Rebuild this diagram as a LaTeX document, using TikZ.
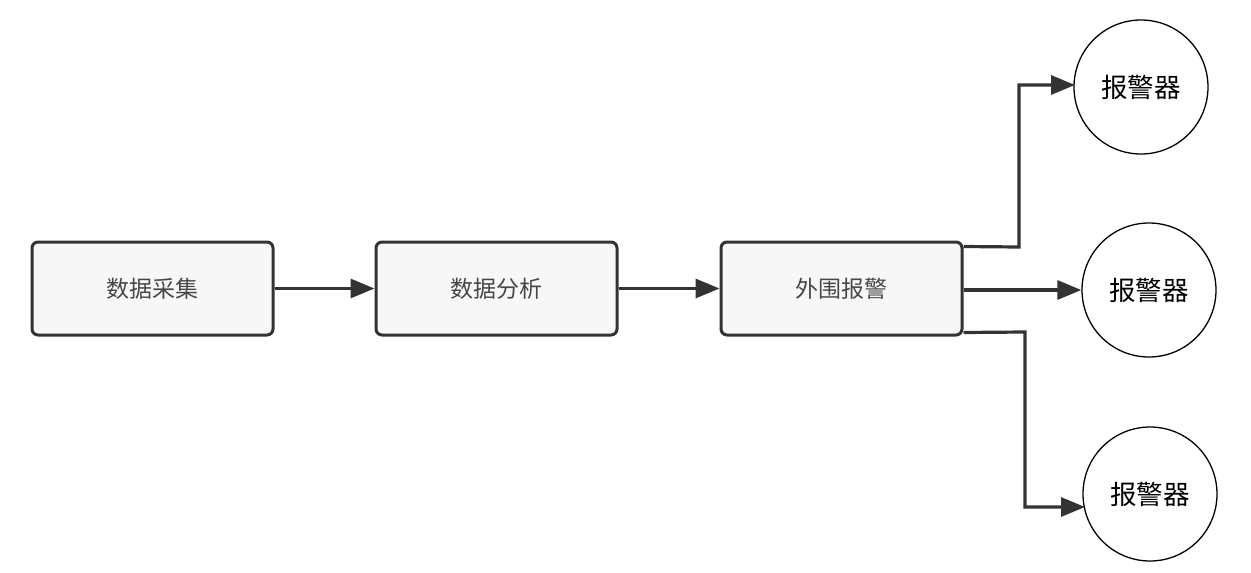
\documentclass[tikz,border=0pt]{standalone}
\usepackage{fontspec}
\newfontfamily\cjk{Noto Sans CJK SC}
\usetikzlibrary{arrows.meta,calc}
\definecolor{lc}{HTML}{333333}
\definecolor{bf}{HTML}{F7F7F7}
\tikzset{
  procbox/.style={draw=lc, line width=3pt, fill=bf, rounded corners=6pt,
    minimum width=241pt, minimum height=93pt, inner sep=0pt,
    font=\cjk\fontsize{23pt}{27pt}\selectfont, text=lc!90},
  alarm/.style={draw=black, line width=1.3pt, circle, minimum size=134pt, inner sep=0pt,
    font=\cjk\fontsize{26.5pt}{31pt}\selectfont, text=black},
  conn/.style={draw=lc, line width=3.2pt, -{Triangle[length=24pt,width=19pt]}}
}
\begin{document}
\begin{tikzpicture}[x=1pt,y=-1pt]
\useasboundingbox (0,0) rectangle (1251,573);
\node[procbox] (a) at (152.5,288.5) {数据采集};
\node[procbox] (b) at (496.5,288.5) {数据分析};
\node[procbox] (c) at (841.5,288.5) {外围报警};
\node[alarm] (r1) at (1141,87) {报警器};
\node[alarm] (r2) at (1149,290) {报警器};
\node[alarm] (r3) at (1150,494) {报警器};
\draw[conn] (a.east) -- (b.west);
\draw[conn] (b.east) -- (c.west);
\coordinate (c1) at ($(c.north east)+(0,6)$);
\coordinate (c3) at ($(c.south east)+(0,-4)$);
\coordinate (e1) at (1075,85);
\coordinate (e3) at (1085,507);
\draw[conn] (c1) -- (1019,247) -- (1019,85) -- (e1);
\draw[conn] (c.east |- r2.west) -- (r2.west);
\draw[conn] (c3) -- (1025,332) -- (1025,507) -- (e3);
\end{tikzpicture}
\end{document}
